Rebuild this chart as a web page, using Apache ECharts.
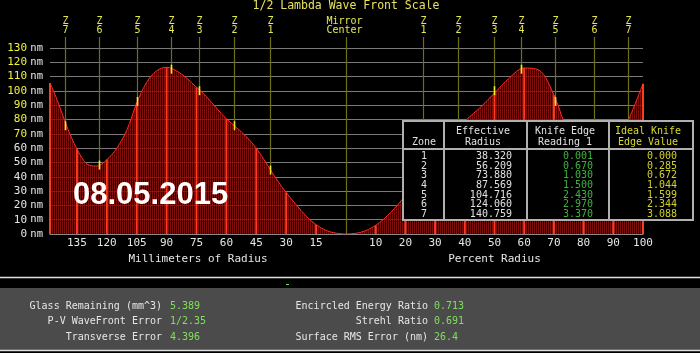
<!DOCTYPE html>
<html><head><meta charset="utf-8">
<script src="https://cdn.jsdelivr.net/npm/echarts@6/dist/echarts.min.js"></script>
<style>html,body{margin:0;padding:0;background:#000}#c{width:700px;height:353px}</style>
</head><body><div id="c"></div>
<script>
// ---------- data ----------
const mirrorRadius = 148.5; // mm
const radiusMm = [0,5,10,15,20,25,30,35,40,45,50,55,60,65,70,75,80,85,90,95,100,105,110,115,120,125,130,135,140,145,148.5];
const profileNm = [0,0.6,2.5,6.5,12.5,20.5,29,38.5,49.5,60,68,74.5,80.5,88,96,102.5,109,114,116.5,114,106,91.5,72.5,60,52,47.5,49,59.5,75,94,105.5];
const percentRadius = [0,5,10,15,20,25,30,35,40,45,50,55,60,65,70,75,80,85,90,95,100];
const profilePctNm = [0,1.2,6,15,27,42,57,69,79,88,98.5,109,116,114.5,97,70,54,47.5,56,79,105];
const mmTickLabels = [135,120,105,90,75,60,45,30,15];
const pctTickLabels = [10,20,30,40,50,60,70,80,90,100];
const yTickLabels = [0,10,20,30,40,50,60,70,80,90,100,110,120,130];
const zoneIds = [1,2,3,4,5,6,7];
const zoneRadius = [38.320,56.209,73.880,87.569,104.716,124.060,140.759];
const knifeReading = ['0.001','0.670','1.030','1.500','2.430','2.970','3.370'];
const idealKnife = ['0.000','0.285','0.672','1.044','1.599','2.344','3.088'];
const zoneCurveNm = [45,76,100.5,115.5,93,48.5,76];
const statLabelsLeft = ['Glass Remaining (mm^3)','P-V WaveFront Error','Transverse Error'];
const statValuesLeft = ['5.389','1/2.35','4.396'];
const statLabelsRight = ['Encircled Energy Ratio','Strehl Ratio','Surface RMS Error (nm)'];
const statValuesRight = ['0.713','0.691','26.4'];
const titleText = '1/2 Lambda Wave Front Scale';
const dateText = '08.05.2015';

// ---------- styling helpers ----------
const MONO = '"DejaVu Sans Mono", monospace';
const pc = document.createElement('canvas');
pc.width = 2; pc.height = 1;
const pctx = pc.getContext('2d');
pctx.fillStyle = 'rgba(140,16,10,0.9)'; pctx.fillRect(0,0,1,1);
pctx.fillStyle = 'rgba(18,0,0,0.6)'; pctx.fillRect(1,0,1,1);
const hatch = {image: pc, repeat: 'repeat'};

const leftPts = radiusMm.map((r,i)=>[r, profileNm[i]]);
const rightPts = percentRadius.map((p,i)=>[p, profilePctNm[i]]);
const leftBright = leftPts.filter(d => (d[0] > 0 && d[0] % 15 === 0) || d[0] === mirrorRadius);
const rightBright = rightPts.filter(d => d[0] > 0 && d[0] % 10 === 0);
const leftZones = zoneIds.map((z,i)=>[zoneRadius[i], zoneCurveNm[i], z]).concat([[0,0,0]]);
const rightZones = zoneIds.map((z,i)=>[zoneRadius[i]/mirrorRadius*100, zoneCurveNm[i], z]);

function zoneRender(params, api) {
  const id = api.value(2);
  const p = api.coord([api.value(0), api.value(1)]);
  const x = Math.round(p[0]) + 0.5;
  const ch = [
    {type:'line', shape:{x1:x,y1:37,x2:x,y2:p[1]}, style:{stroke:'#6e6e16', lineWidth:1.2}}
  ];
  if (id > 0) {
    ch.push({type:'line', shape:{x1:x,y1:p[1]-4,x2:x,y2:p[1]+5}, style:{stroke:'#f0f020', lineWidth:1.6}});
    ch.push({type:'text', style:{text:'Z\n'+id, x:x, y:17, align:'center', textAlign:'center', verticalAlign:'top', textVerticalAlign:'top', fill:'#e8e850', font:'10px '+MONO, lineHeight:9}});
  } else {
    ch.push({type:'text', style:{text:'Mirror\nCenter', x:x-2, y:17, align:'center', textAlign:'center', verticalAlign:'top', textVerticalAlign:'top', fill:'#e8e850', font:'10px '+MONO, lineHeight:9}});
  }
  return {type:'group', children: ch};
}

function yAxisCfg(showLabels) {
  return {
    type:'value', min:0, max:130, interval:10,
    axisLine:{show:false}, axisTick:{show:false},
    splitLine:{lineStyle:{color:'#7a7a7a', width:1}},
    axisLabel:{
      show: showLabels, margin:7,
      formatter: v => yTickLabels.indexOf(v) < 0 ? '' : '{' + (v >= 70 ? 'y' : 'w') + '|' + v + '} {n|nm}',
      rich:{
        y:{color:'#f0f040', fontFamily:MONO, fontSize:11},
        w:{color:'#e6e6e6', fontFamily:MONO, fontSize:11},
        n:{color:'#e6e6e6', fontFamily:MONO, fontSize:10.5}
      }
    }
  };
}

const axisLabelStyle = {color:'#e6e6e6', fontFamily:MONO, fontSize:11, margin:4};

// ---------- graphics (table, panel, texts) ----------
const G = [];
G.push({type:'text', z:100, style:{text:titleText, x:346, y:0, align:'center', textAlign:'center', verticalAlign:'top', textVerticalAlign:'top', fill:'#e8e060', font:'11.5px '+MONO}});
G.push({type:'text', z:100, style:{text:dateText, x:73, y:195, align:'left', textAlign:'left', verticalAlign:'middle', textVerticalAlign:'middle', fill:'#ffffff', font:'bold 31px "Liberation Sans", Arial, sans-serif'}});
// table
const TL = 403, TT = 121, TR = 693, TB = 220;
G.push({type:'rect', z:100, shape:{x:TL, y:TT, width:TR-TL, height:TB-TT}, style:{fill:'#000', stroke:'#b0b0b0', lineWidth:2}});
[444, 527, 609].forEach(x => G.push({type:'line', z:101, shape:{x1:x,y1:TT,x2:x,y2:TB}, style:{stroke:'#b0b0b0', lineWidth:2}}));
G.push({type:'line', z:101, shape:{x1:TL,y1:149,x2:TR,y2:149}, style:{stroke:'#b0b0b0', lineWidth:2}});
function tt(text, x, y, fill, al) {
  G.push({type:'text', z:102, style:{text:text, x:x, y:y, align:al, textAlign:al, verticalAlign:'middle', textVerticalAlign:'middle', fill:fill, font:'10px '+MONO}});
}
tt('Effective', 483, 131, '#e0e0e0', 'center');
tt('Radius', 483, 142, '#e0e0e0', 'center');
tt('Knife Edge', 565, 131, '#e0e0e0', 'center');
tt('Reading 1', 565, 142, '#e0e0e0', 'center');
tt('Ideal Knife', 648, 131, '#d8d830', 'center');
tt('Edge Value', 648, 142, '#d8d830', 'center');
tt('Zone', 424, 142, '#e0e0e0', 'center');
zoneIds.forEach((z,i) => {
  const y = 156.5 + i*9.65;
  tt(String(z), 424, y, '#e0e0e0', 'center');
  tt(zoneRadius[i].toFixed(3), 512, y, '#e0e0e0', 'right');
  tt(knifeReading[i], 593, y, '#3cb43c', 'right');
  tt(idealKnife[i], 677, y, '#d0d030', 'right');
});
// bottom panel
G.push({type:'rect', z:100, shape:{x:0, y:288, width:700, height:62}, style:{fill:'#4b4b4b'}});
G.push({type:'line', z:100, shape:{x1:0,y1:277.5,x2:700,y2:277.5}, style:{stroke:'#e0e0e0', lineWidth:1.5}});
G.push({type:'line', z:100, shape:{x1:0,y1:350.5,x2:700,y2:350.5}, style:{stroke:'#e0e0e0', lineWidth:1.5}});
G.push({type:'rect', z:100, shape:{x:286, y:284, width:3, height:1}, style:{fill:'#7ee05a'}});
function pt(text, x, y, fill, al) {
  G.push({type:'text', z:102, style:{text:text, x:x, y:y, align:al, textAlign:al, verticalAlign:'middle', textVerticalAlign:'middle', fill:fill, font:'10px '+MONO}});
}
[306.5, 321.7, 337.3].forEach((y,i) => {
  pt(statLabelsLeft[i], 162, y, '#e6e6e6', 'right');
  pt(statValuesLeft[i], 170, y, '#7ee05a', 'left');
  pt(statLabelsRight[i], 428, y, '#e6e6e6', 'right');
  pt(statValuesRight[i], 434, y, '#7ee05a', 'left');
});

// ---------- chart ----------
const chart = echarts.init(document.getElementById('c'), null, {renderer:'canvas'});
chart.setOption({
  backgroundColor:'#000',
  animation:false,
  grid:[
    {left:50, top:48, width:296, height:186},
    {left:346, top:48, width:297, height:186}
  ],
  xAxis:[
    {gridIndex:0, type:'value', min:0, max:mirrorRadius, interval:15, inverse:true,
     axisLine:{lineStyle:{color:'#8a8a8a'}}, axisTick:{show:false}, splitLine:{show:false},
     axisLabel:Object.assign({formatter: v => mmTickLabels.indexOf(v) >= 0 ? String(v) : '', showMinLabel:false, showMaxLabel:false}, axisLabelStyle),
     name:'Millimeters of Radius', nameLocation:'middle', nameGap:18,
     nameTextStyle:{color:'#e6e6e6', fontFamily:MONO, fontSize:11}},
    {gridIndex:1, type:'value', min:0, max:100, interval:10,
     axisLine:{lineStyle:{color:'#8a8a8a'}}, axisTick:{show:false}, splitLine:{show:false},
     axisLabel:Object.assign({formatter: v => pctTickLabels.indexOf(v) >= 0 ? String(v) : '', showMinLabel:false}, axisLabelStyle),
     name:'Percent Radius', nameLocation:'middle', nameGap:18,
     nameTextStyle:{color:'#e6e6e6', fontFamily:MONO, fontSize:11}}
  ],
  yAxis:[
    Object.assign({gridIndex:0}, yAxisCfg(true)),
    Object.assign({gridIndex:1}, yAxisCfg(false))
  ],
  series:[
    {type:'line', xAxisIndex:0, yAxisIndex:0, data:leftPts, smooth:0.35, symbol:'none',
     lineStyle:{color:'#ff2a2a', width:1}, areaStyle:{color:hatch, opacity:1}, z:2},
    {type:'line', xAxisIndex:1, yAxisIndex:1, data:rightPts, smooth:0.35, symbol:'none',
     lineStyle:{color:'#ff2a2a', width:1}, areaStyle:{color:hatch, opacity:1}, z:2},
    {type:'bar', xAxisIndex:0, yAxisIndex:0, data:leftBright, barWidth:2, itemStyle:{color:'#ff3a1e'}, z:3},
    {type:'bar', xAxisIndex:1, yAxisIndex:1, data:rightBright, barWidth:2, itemStyle:{color:'#ff3a1e'}, z:3},
    {type:'custom', xAxisIndex:0, yAxisIndex:0, data:leftZones, renderItem:zoneRender, clip:false, z:5},
    {type:'custom', xAxisIndex:1, yAxisIndex:1, data:rightZones, renderItem:zoneRender, clip:false, z:5}
  ],
  graphic:{elements:G}
});
</script>
</body></html>
